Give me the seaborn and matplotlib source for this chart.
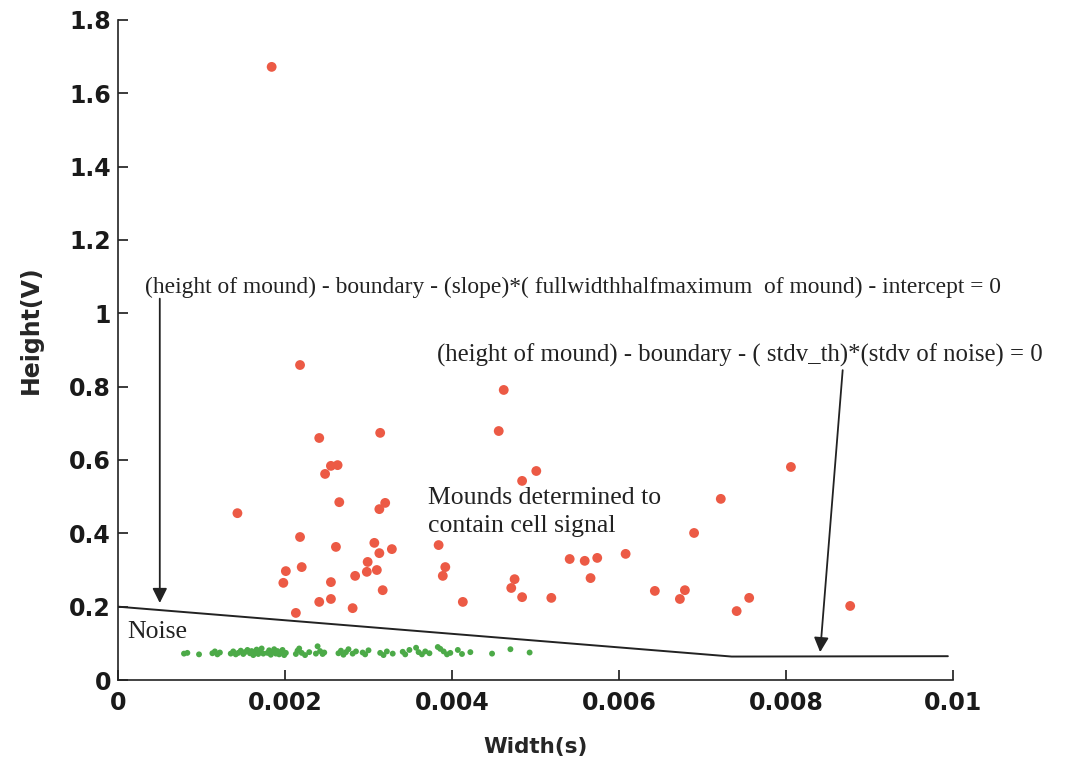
import matplotlib
matplotlib.use("Agg")
import matplotlib.pyplot as plt
import seaborn as sns
import pandas as pd

# Mounds above the boundary (cell signal)
signal_width = [0.00184, 0.00218, 0.00462, 0.00456, 0.00241, 0.00314, 0.00255, 0.00263,
                0.00248, 0.00143, 0.00265, 0.00320, 0.00313, 0.00218, 0.00261, 0.00307,
                0.00313, 0.00328, 0.00299, 0.00220, 0.00201, 0.00298, 0.00310, 0.00284,
                0.00198, 0.00255, 0.00317, 0.00241, 0.00255, 0.00281, 0.00213, 0.00501,
                0.00484, 0.00690, 0.00384, 0.00392, 0.00389, 0.00541, 0.00559, 0.00574,
                0.00608, 0.00566, 0.00475, 0.00471, 0.00484, 0.00519, 0.00413, 0.00643,
                0.00679, 0.00673, 0.00806, 0.00722, 0.00756, 0.00741, 0.00877]
signal_height = [1.672, 0.859, 0.791, 0.679, 0.660, 0.674, 0.584, 0.586,
                 0.562, 0.455, 0.485, 0.483, 0.466, 0.390, 0.363, 0.374,
                 0.346, 0.357, 0.322, 0.308, 0.297, 0.295, 0.300, 0.284,
                 0.265, 0.267, 0.245, 0.213, 0.221, 0.196, 0.183, 0.570,
                 0.543, 0.401, 0.368, 0.308, 0.284, 0.330, 0.325, 0.333,
                 0.344, 0.278, 0.275, 0.251, 0.226, 0.224, 0.213, 0.243,
                 0.245, 0.221, 0.581, 0.494, 0.224, 0.188, 0.202]

# Mounds below the boundary (noise)
noise_width = [0.00079, 0.00083, 0.00097, 0.00113, 0.00116, 0.00119, 0.00122, 0.00135,
               0.00138, 0.00141, 0.00144, 0.00147, 0.00150, 0.00152, 0.00155, 0.00158,
               0.00160, 0.00162, 0.00164, 0.00166, 0.00168, 0.00170, 0.00172, 0.00174,
               0.00179, 0.00181, 0.00183, 0.00185, 0.00187, 0.00189, 0.00191, 0.00193,
               0.00195, 0.00197, 0.00199, 0.00201, 0.00213, 0.00215, 0.00217, 0.00220,
               0.00224, 0.00229, 0.00237, 0.00239, 0.00242, 0.00245, 0.00247, 0.00264,
               0.00267, 0.00270, 0.00273, 0.00276, 0.00281, 0.00285, 0.00293, 0.00296,
               0.00300, 0.00314, 0.00318, 0.00322, 0.00329, 0.00341, 0.00344, 0.00349,
               0.00357, 0.00360, 0.00364, 0.00368, 0.00373, 0.00383, 0.00386, 0.00390,
               0.00394, 0.00398, 0.00407, 0.00412, 0.00422, 0.00448, 0.00470, 0.00493]
noise_height = [0.072, 0.074, 0.070, 0.073, 0.078, 0.070, 0.075, 0.072,
                0.078, 0.070, 0.074, 0.080, 0.071, 0.076, 0.082, 0.073,
                0.079, 0.068, 0.075, 0.083, 0.071, 0.077, 0.086, 0.072,
                0.074, 0.081, 0.069, 0.077, 0.084, 0.072, 0.079, 0.070,
                0.075, 0.082, 0.068, 0.074, 0.071, 0.080, 0.086, 0.074,
                0.068, 0.076, 0.072, 0.092, 0.079, 0.071, 0.075, 0.073,
                0.080, 0.069, 0.076, 0.084, 0.072, 0.078, 0.075, 0.070,
                0.081, 0.074, 0.068, 0.078, 0.072, 0.077, 0.070, 0.082,
                0.088, 0.076, 0.070, 0.078, 0.073, 0.090, 0.085, 0.078,
                0.070, 0.074, 0.082, 0.071, 0.076, 0.072, 0.084, 0.075]

# Decision boundary (slope segment, then stdv threshold)
boundary_width = [0.0, 0.00735, 0.00994]
boundary_height = [0.2, 0.064, 0.065]

x_ticks = [0, 0.002, 0.004, 0.006, 0.008, 0.01]
x_labels = ["0", "0.002", "0.004", "0.006", "0.008", "0.01"]
y_ticks = [0, 0.2, 0.4, 0.6, 0.8, 1.0, 1.2, 1.4, 1.6, 1.8]
y_labels = ["0", "0.2", "0.4", "0.6", "0.8", "1", "1.2", "1.4", "1.6", "1.8"]

signal = pd.DataFrame({"Width": signal_width, "Height": signal_height})
noise = pd.DataFrame({"Width": noise_width, "Height": noise_height})
boundary = pd.DataFrame({"Width": boundary_width, "Height": boundary_height})

sns.set_style("ticks")
plt.rcParams["font.family"] = ["DejaVu Sans"]

fig = plt.figure(figsize=(10.89, 7.67), dpi=100)
ax = fig.add_axes([0.1084, 0.1134, 0.7666, 0.8606])

sns.scatterplot(data=signal, x="Width", y="Height", ax=ax, color="#ec5a45",
                s=50, edgecolor="none", zorder=3)
sns.scatterplot(data=noise, x="Width", y="Height", ax=ax, color="#4caa48",
                s=18, edgecolor="none", zorder=3)
sns.lineplot(data=boundary, x="Width", y="Height", ax=ax, sort=False,
             color="#222222", lw=1.4, zorder=2)

serif = ["Liberation Serif", "DejaVu Serif"]
arrow = dict(arrowstyle="-|>", mutation_scale=22, lw=1.3, color="#222222",
             shrinkA=0, shrinkB=0)

ax.text(0.000323, 1.072,
        "(height of mound) - boundary - (slope)*( fullwidthhalfmaximum  of mound) - intercept = 0",
        family=serif, fontsize=16.9, va="center", ha="left", color="#222222")
ax.annotate("", xy=(0.00050, 0.21), xytext=(0.00050, 1.04), arrowprops=arrow)

ax.text(0.00382, 0.886,
        "(height of mound) - boundary - ( stdv_th)*(stdv of noise) = 0",
        family=serif, fontsize=17.8, va="center", ha="left", color="#222222")
ax.annotate("", xy=(0.00841, 0.076), xytext=(0.00868, 0.845), arrowprops=arrow)

ax.text(0.00371, 0.458, "Mounds determined to\ncontain cell signal",
        family=serif, fontsize=18.5, va="center", ha="left", color="#222222",
        linespacing=1.4)
ax.text(0.00011, 0.131, "Noise", family=serif, fontsize=18.5, va="center",
        ha="left", color="#222222")

ax.set_xlim(0, 0.01)
ax.set_ylim(0, 1.8)
ax.set_xticks(x_ticks)
ax.set_xticklabels(x_labels, fontsize=17, fontweight="bold")
ax.set_yticks(y_ticks)
ax.set_yticklabels(y_labels, fontsize=17, fontweight="bold")
ax.tick_params(direction="in", length=7, width=1.2, colors="#1a1a1a")
ax.tick_params(axis="x", pad=8)
ax.tick_params(axis="y", pad=5)
ax.set_xlabel("Width(s)", fontsize=15.5, fontweight="bold", labelpad=16)
ax.set_ylabel("Height(V)", fontsize=17, fontweight="bold")
ax.yaxis.set_label_coords(-0.09, 0.53)

sns.despine(ax=ax)
for side in ["left", "bottom"]:
    ax.spines[side].set_linewidth(1.2)
    ax.spines[side].set_color("#222222")

fig.savefig("out.png", dpi=100)
